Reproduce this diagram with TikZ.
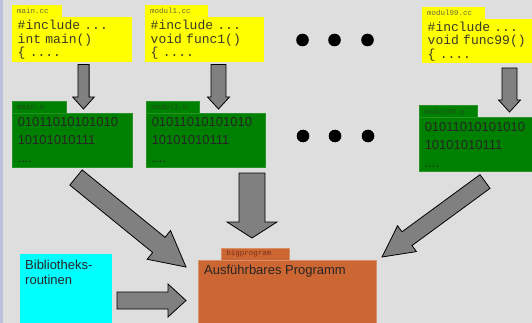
\documentclass[tikz,border=0pt]{standalone}
\usepackage{fontspec}
\setmainfont{Liberation Sans}
\setmonofont{Liberation Mono}
\usetikzlibrary{calc}
\definecolor{bgc}{HTML}{DEDEDE}
\definecolor{stripc}{HTML}{BCC0DC}
\definecolor{yel}{HTML}{FFFF00}
\definecolor{grn}{HTML}{008000}
\definecolor{cyn}{HTML}{00FFFF}
\definecolor{org}{HTML}{CC6633}
\definecolor{orgline}{HTML}{D8906A}
\definecolor{arrgray}{HTML}{808080}
\definecolor{ytext}{HTML}{3A3A28}
\definecolor{ylabel}{HTML}{6A6A40}
\definecolor{glabel}{HTML}{1E4A1E}
\definecolor{olabel}{HTML}{7A3418}
\newcommand\fatarrow[5]{%
  \coordinate (fa-h) at ($(#2)!#5!(#1)$);
  \draw[fat] ($(#1)!#3!90:(#2)$) -- ($(fa-h)!#3!90:(#2)$) -- ($(fa-h)!#4!90:(#2)$) -- (#2)
    -- ($(fa-h)!#4!-90:(#2)$) -- ($(fa-h)!#3!-90:(#2)$) -- ($(#1)!#3!-90:(#2)$) -- cycle;}
\tikzset{
  fat/.style={fill=arrgray, draw=black, line width=0.8pt, line join=miter},
  tabbox/.style={anchor=north west, inner ysep=0pt, inner xsep=5pt, minimum height=12pt, align=left,
    font=\fontsize{7.5}{8}\ttfamily},
  bodybox/.style={anchor=north west, inner ysep=0pt, inner xsep=5.5pt, align=left},
  ycode/.style={bodybox, fill=yel, text=ytext, font=\fontsize{13}{13.5}\selectfont\ttfamily},
  gcode/.style={bodybox, fill=grn, draw=grn!85!white, line width=0.5pt, text=black!85, font=\fontsize{13}{18}\selectfont, minimum height=54pt},
  ytab/.style={tabbox, fill=yel, text=ylabel},
  gtab/.style={tabbox, fill=grn, draw=grn!85!white, line width=0.5pt, text=glabel},
  dot/.style={circle, fill=black, inner sep=0pt, minimum size=12.6pt},
  sanstext/.style={anchor=north west, inner sep=0pt, align=left, font=\fontsize{13}{15}\selectfont}
}
\begin{document}
\begin{tikzpicture}[x=1pt,y=-1pt]
\useasboundingbox (0,0) rectangle (532,323);
\fill[bgc] (0,0) rectangle (532,323);
\fill[stripc] (0,0) rectangle (3.4,323);

% source files
\node[ytab, text width=40pt] (mainccTab) at (12,5) {main.cc};
\node[ycode, text width=109pt, minimum height=45pt] (maincc) at (12,17) {\#include ...\\int main()\\\{ ....};
\node[ytab, text width=53pt] (modulccTab) at (145,5) {modul1.cc};
\node[ycode, text width=108pt, minimum height=45pt] (modulcc) at (145,17) {\#include ...\\void func1()\\\{ ....};
\node[ytab, text width=53pt] (modnnccTab) at (422,7) {modul99.cc};
\node[ycode, text width=99pt, minimum height=44pt] (modnncc) at (422,19) {\#include ...\\void func99()\\\{ ....};

% object files
\node[gtab, text width=44pt] (mainoTab) at (12,101) {main.o};
\node[gcode, text width=109pt] (maino) at (12,113) {01011010101010\\10101010111\\....};
\node[gtab, text width=43pt] (moduloTab) at (146,101) {modul1.o};
\node[gcode, text width=108pt] (modulo) at (146,113) {01011010101010\\10101010111\\....};
\node[gtab, text width=48pt] (modnnoTab) at (419,105.5) {modul99.o};
\node[gcode, text width=102pt] (modnno) at (419,117.5) {01011010101010\\10101010111\\....};

% dots
\node[dot] (d1) at (302.5,40) {};
\node[dot] (d2) at (334.5,40) {};
\node[dot] (d3) at (367.5,40) {};
\node[dot] (d4) at (303,136) {};
\node[dot] (d5) at (335,136) {};
\node[dot] (d6) at (368,136) {};

% library and executable
\node[anchor=north west, fill=cyn, minimum width=92pt, minimum height=70pt, inner sep=0pt] (lib) at (20,254) {};
\node[sanstext, text=black!85] (libtext) at ($(lib.north west)+(5,6)$) {Bibliotheks-\\routinen};
\node[tabbox, fill=org, draw=orgline, line width=0.5pt, text=olabel, text width=58pt] (bigTab) at (221,247.5) {bigprogram};
\node[anchor=north west, fill=org, draw=orgline, line width=0.5pt, minimum width=178pt, minimum height=66pt, inner sep=0pt] (big) at (198,260) {};
\node[sanstext, text=black!85] (bigtext) at ($(big.north west)+(6,4.5)$) {Ausführbares Programm};

% arrow end points
\coordinate (a1s) at (83.5,64.5);
\coordinate (a1e) at (83.5,109);
\coordinate (a2s) at (218.5,64.5);
\coordinate (a2e) at (218.5,109);
\coordinate (a3s) at (509.5,68);
\coordinate (a3e) at (509.5,112);
\coordinate (b1s) at (76,177.5);
\coordinate (b1e) at (186,267);
\coordinate (b2s) at (252,173);
\coordinate (b2e) at (252,238);
\coordinate (b3s) at (485,181.5);
\coordinate (b3e) at (382,257);
\coordinate (b4s) at (117,300.5);
\coordinate (b4e) at (186,300.5);

\fatarrow{a1s}{a1e}{5.6pt}{10.8pt}{12pt}
\fatarrow{a2s}{a2e}{7.5pt}{11pt}{12pt}
\fatarrow{a3s}{a3e}{7.5pt}{11pt}{12pt}
\fatarrow{b1s}{b1e}{9.8pt}{18.5pt}{35pt}
\fatarrow{b2s}{b2e}{13pt}{25pt}{16pt}
\fatarrow{b3s}{b3e}{8.5pt}{16pt}{31pt}
\fatarrow{b4s}{b4e}{8.5pt}{16.5pt}{18pt}
\end{tikzpicture}
\end{document}
